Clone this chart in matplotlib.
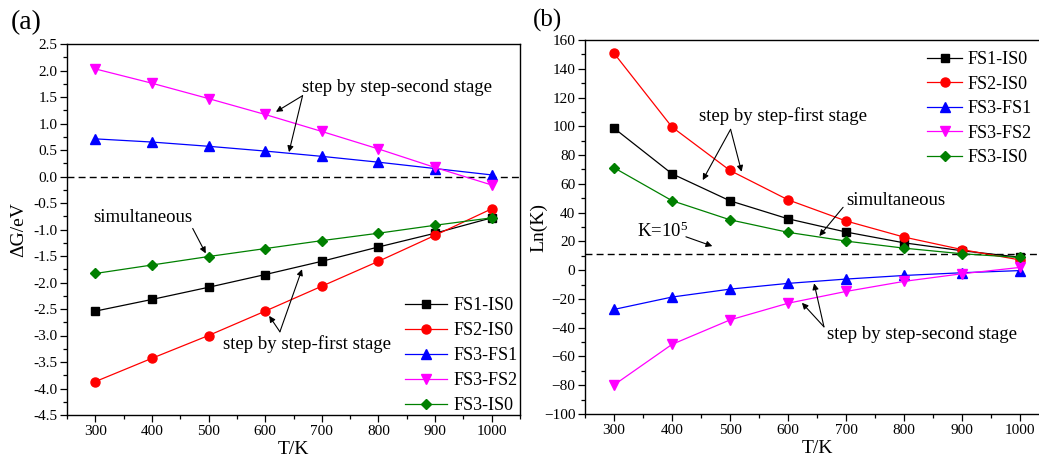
import matplotlib
matplotlib.use("Agg")
import matplotlib.pyplot as plt
from matplotlib.ticker import MultipleLocator

plt.rcParams['font.family'] = ['Liberation Serif', 'DejaVu Serif']
plt.rcParams['mathtext.fontset'] = 'custom'
plt.rcParams['mathtext.rm'] = 'Liberation Serif'
plt.rcParams['mathtext.it'] = 'Liberation Serif:italic'

# Temperatures (K)
T = [300, 400, 500, 600, 700, 800, 900, 1000]

series_labels = ["FS1-IS0", "FS2-IS0", "FS3-FS1", "FS3-FS2", "FS3-IS0"]
series_colors = ["#000000", "#ff0000", "#0000ff", "#ff00ff", "#008000"]
series_markers = ["s", "o", "^", "v", "D"]

# Gibbs free energy change (eV)
dG_FS1_IS0 = [-2.54, -2.32, -2.09, -1.85, -1.60, -1.33, -1.07, -0.78]
dG_FS2_IS0 = [-3.87, -3.43, -3.00, -2.54, -2.07, -1.60, -1.11, -0.61]
dG_FS3_FS1 = [0.71, 0.65, 0.57, 0.48, 0.38, 0.27, 0.15, 0.03]
dG_FS3_FS2 = [2.03, 1.76, 1.47, 1.17, 0.85, 0.52, 0.17, -0.16]
dG_FS3_IS0 = [-1.83, -1.67, -1.51, -1.36, -1.21, -1.07, -0.92, -0.78]

# Equilibrium constants, Ln(K)
lnK_FS1_IS0 = [98.7, 67.0, 48.2, 35.7, 26.5, 19.0, 13.5, 9.0]
lnK_FS2_IS0 = [150.8, 99.5, 69.3, 48.9, 34.2, 23.0, 14.3, 7.1]
lnK_FS3_FS1 = [-27.3, -18.7, -13.2, -9.2, -6.2, -3.7, -1.8, -0.3]
lnK_FS3_FS2 = [-79.8, -51.6, -34.6, -23.0, -14.8, -7.8, -2.5, 1.9]
lnK_FS3_IS0 = [71.2, 48.3, 35.0, 26.3, 20.2, 15.3, 11.4, 8.8]

lnK_ref = 11.5  # Ln(10^5)

dG_series = [dG_FS1_IS0, dG_FS2_IS0, dG_FS3_FS1, dG_FS3_FS2, dG_FS3_IS0]
lnK_series = [lnK_FS1_IS0, lnK_FS2_IS0, lnK_FS3_FS1, lnK_FS3_FS2, lnK_FS3_IS0]

W, H = 1039, 459
fig = plt.figure(figsize=(W / 100, H / 100), dpi=100)


def px_axes(left, top, right, bottom):
    return fig.add_axes([left / W, 1 - bottom / H, (right - left) / W, (bottom - top) / H])


ax_a = px_axes(67, 44, 520, 415)
ax_b = px_axes(585, 40, 1049, 414)

msize = {"s": 6.0, "o": 6.5, "^": 7.0, "v": 7.0, "D": 5.2}


def style_axes(ax):
    ax.set_xlim(250, 1050)
    ax.xaxis.set_major_locator(MultipleLocator(100))
    ax.xaxis.set_minor_locator(MultipleLocator(50))
    ax.tick_params(which='both', direction='out', top=False, right=False,
                   labelsize=11, width=0.9)
    ax.tick_params(which='major', length=5, pad=2)
    ax.tick_params(which='minor', length=3)
    for s in ax.spines.values():
        s.set_linewidth(1.0)
    ax.set_xlabel("T/K", fontsize=14)


def draw(ax, data):
    for vals, lab, col, mk in zip(data, series_labels, series_colors, series_markers):
        ax.plot(T, vals, color=col, marker=mk, markersize=msize[mk], lw=0.9,
                label=lab, clip_on=False, zorder=3)


arrow_kw = dict(arrowstyle='-|>', color='black', lw=0.8, mutation_scale=9,
                shrinkA=0, shrinkB=0)


def multi_arrow(ax, origin, targets):
    for tgt in targets:
        ax.annotate("", xy=tgt, xytext=origin, arrowprops=arrow_kw, zorder=5)


# ---- Panel (a): Gibbs free energy ----
style_axes(ax_a)
ax_a.xaxis.set_label_coords(0.5, -0.07)
draw(ax_a, dG_series)
ax_a.axhline(0, color='black', lw=1.0, linestyle=(0, (5, 3)), zorder=2)
ax_a.set_ylim(-4.5, 2.5)
ax_a.yaxis.set_major_locator(MultipleLocator(0.5))
ax_a.yaxis.set_minor_locator(MultipleLocator(0.25))
ax_a.yaxis.set_major_formatter(matplotlib.ticker.FormatStrFormatter('%.1f'))
ax_a.set_ylabel("ΔG/eV", fontsize=14)
ax_a.yaxis.set_label_coords(-0.088, 0.5)

ax_a.text(833, 1.67, "step by step-second stage", fontsize=13.5, ha='center', va='center')
multi_arrow(ax_a, (666, 1.525), [(619, 1.22), (642, 0.46)])
ax_a.text(384, -0.78, "simultaneous", fontsize=13.5, ha='center', va='center')
multi_arrow(ax_a, (472, -0.98), [(495, -1.45)])
ax_a.text(674, -3.16, "step by step-first stage", fontsize=13.5, ha='center', va='center')
multi_arrow(ax_a, (626, -2.93), [(665, -1.75), (607, -2.63)])

ax_a.legend(loc='upper left', bbox_to_anchor=(405 / W, 1 - 297 / H),
            bbox_transform=fig.transFigure, frameon=False, fontsize=13,
            handlelength=2.35, handletextpad=0.35, labelspacing=0.45,
            borderpad=0, borderaxespad=0)

# ---- Panel (b): Ln(K) ----
style_axes(ax_b)
ax_b.xaxis.set_label_coords(0.5, -0.07)
ax_b.spines['right'].set_visible(False)
draw(ax_b, lnK_series)
ax_b.axhline(lnK_ref, color='black', lw=1.0, linestyle=(0, (5, 3)), zorder=2)
ax_b.set_ylim(-100, 160)
ax_b.yaxis.set_major_locator(MultipleLocator(20))
ax_b.yaxis.set_minor_locator(MultipleLocator(10))
ax_b.set_ylabel("Ln(K)", fontsize=14)
ax_b.yaxis.set_label_coords(-0.082, 0.5)

ax_b.text(591, 107.1, "step by step-first stage", fontsize=13.5, ha='center', va='center')
multi_arrow(ax_b, (501, 97.9), [(453, 62.6), (520, 68.4)])
ax_b.text(786, 48.7, "simultaneous", fontsize=13.5, ha='center', va='center')
multi_arrow(ax_b, (695, 43.7), [(654, 23.7)])
ax_b.text(340, 27.2, "K=10$^5$", fontsize=13.5, ha='left', va='center')
multi_arrow(ax_b, (424, 23.2), [(469.5, 16.7)])
ax_b.text(831, -44.4, "step by step-second stage", fontsize=13.5, ha='center', va='center')
multi_arrow(ax_b, (662, -39.4), [(645, -9.2), (624, -22.7)])

ax_b.legend(loc='upper left', bbox_to_anchor=(927 / W, 1 - 51 / H),
            bbox_transform=fig.transFigure, frameon=False, fontsize=13,
            handlelength=1.95, handletextpad=0.3, labelspacing=0.42,
            borderpad=0, borderaxespad=0)

fig.text(26 / W, 1 - 23 / H, "(a)", fontsize=20, ha='center', va='center')
fig.text(547 / W, 1 - 20 / H, "(b)", fontsize=18, ha='center', va='center')

fig.savefig("out.png", dpi=100)
